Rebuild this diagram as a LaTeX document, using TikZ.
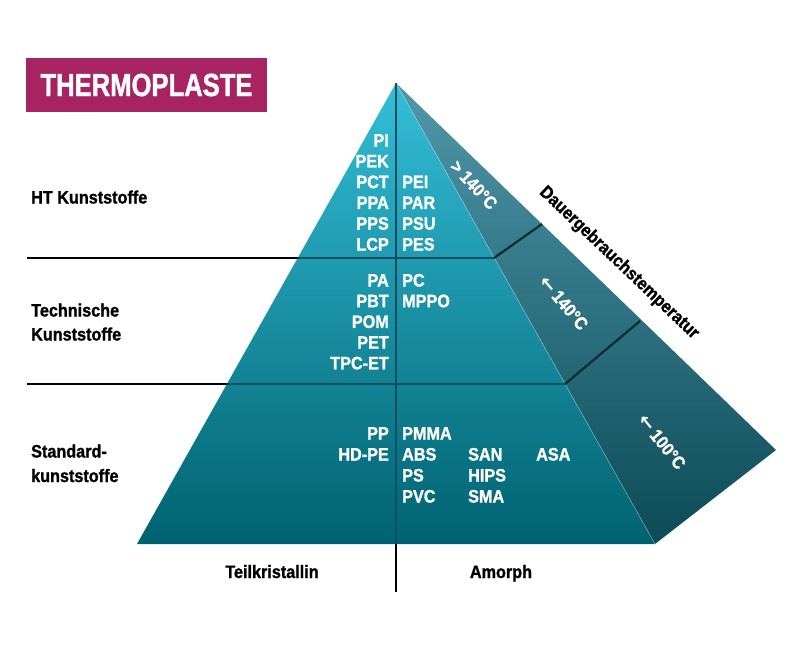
\documentclass[tikz,border=0pt]{standalone}
\usepackage{fontspec}
\setmainfont{Liberation Sans}[FakeStretch=0.9, BoldFeatures={FakeBold=1.2}]
\newfontfamily\titlefont{Liberation Sans}[FakeStretch=0.8, BoldFeatures={FakeBold=1.2}]
\newfontfamily\arrowfont{DejaVu Sans}
\definecolor{thermomag}{RGB}{168,35,98}
\definecolor{frontTop}{RGB}{52,190,216}
\definecolor{frontMid}{RGB}{22,140,163}
\definecolor{frontBot}{RGB}{0,98,112}
\definecolor{sideTop}{RGB}{80,152,170}
\definecolor{sideMid}{RGB}{28,96,110}
\definecolor{sideBot}{RGB}{12,74,86}
\definecolor{innerLine}{RGB}{8,80,98}
\definecolor{sideLine}{RGB}{6,45,55}
\tikzset{
  wtxt/.style={text=white, font=\fontsize{18}{20}\selectfont\bfseries, inner sep=0pt},
  btxt/.style={text=black, font=\fontsize{18}{20}\selectfont\bfseries, inner sep=0pt},
  outline/.style={draw=black, line width=2.4pt},
  inline/.style={draw=innerLine, line width=2pt},
  sline/.style={draw=sideLine, line width=2.2pt},
}
\newcommand{\larr}{{\arrowfont\bfseries\fontsize{19}{20}\selectfont ←}}
\begin{document}
\begin{tikzpicture}[x=1pt,y=-1pt]
\useasboundingbox (0,0) rectangle (801,651);
% geometry
\coordinate (apex) at (396,83);
\coordinate (bl) at (137,544);
\coordinate (br) at (655,544);
\coordinate (bk) at (776,450);
\coordinate (l1) at (27,258);
\coordinate (l1a) at (298,258);
\coordinate (l1b) at (494,258);
\coordinate (l1c) at (542,224);
\coordinate (l2) at (27,384);
\coordinate (l2a) at (227,384);
\coordinate (l2b) at (565,384);
\coordinate (l2c) at (640,321);
\coordinate (vb) at (396,544);
\coordinate (vend) at (396,592);
% faces
\shade[top color=sideTop, middle color=sideMid, bottom color=sideBot] (apex) -- (bk) -- (br) -- cycle;
\shade[top color=frontTop, middle color=frontMid, bottom color=frontBot] (apex) -- (br) -- (bl) -- cycle;
\draw[white, opacity=0.35, line width=0.6pt] (apex) -- (br);
% lines
\draw[outline] (l1) -- (l1a);
\draw[inline] (l1a) -- (l1b);
\draw[sline] (l1b) -- (l1c);
\draw[outline] (l2) -- (l2a);
\draw[inline] (l2a) -- (l2b);
\draw[sline] (l2b) -- (l2c);
\draw[inline] (apex) -- (vb);
\draw[outline] (vb) -- (vend);
% title
\node[fill=thermomag, minimum width=241pt, minimum height=54pt, inner sep=0pt,
      text=white, font=\titlefont\fontsize{32}{34}\selectfont\bfseries] (title) at (146.5,85) {THERMOPLASTE};
% left labels
\node[btxt, anchor=base west] (ht) at (31,203.5) {HT Kunststoffe};
\node[btxt, anchor=base west] (tk1) at (31,316.5) {Technische};
\node[btxt, anchor=base west] (tk2) at (31,340.5) {Kunststoffe};
\node[btxt, anchor=base west] (sk1) at (31,457.5) {Standard-};
\node[btxt, anchor=base west] (sk2) at (31,482) {kunststoffe};
% bottom labels
\node[btxt, anchor=base] (teil) at (272,578) {Teilkristallin};
\node[btxt, anchor=base] (amor) at (501,578) {Amorph};
% HT
\foreach \t [count=\i] in {PI,PEK,PCT,PPA,PPS,LCP}
  \node[wtxt, anchor=base east] (hta\i) at (389,{146.5+20.8*(\i-1)}) {\t};
\foreach \t [count=\i] in {PEI,PAR,PSU,PES}
  \node[wtxt, anchor=base west] (htb\i) at (402,{188.1+20.8*(\i-1)}) {\t};
% Technische
\foreach \t [count=\i] in {PA,PBT,POM,PET,TPC-ET}
  \node[wtxt, anchor=base east] (tea\i) at (389,{286.5+20.7*(\i-1)}) {\t};
\foreach \t [count=\i] in {PC,MPPO}
  \node[wtxt, anchor=base west] (teb\i) at (402,{286.5+20.7*(\i-1)}) {\t};
% Standard
\foreach \t [count=\i] in {PP,HD-PE}
  \node[wtxt, anchor=base east] (sta\i) at (389,{439.5+21*(\i-1)}) {\t};
\foreach \t [count=\i] in {PMMA,ABS,PS,PVC}
  \node[wtxt, anchor=base west] (stb\i) at (402,{439.5+21*(\i-1)}) {\t};
\foreach \t [count=\i] in {SAN,HIPS,SMA}
  \node[wtxt, anchor=base west] (stc\i) at (468,{460.5+21*(\i-1)}) {\t};
\node[wtxt, anchor=base west] (std1) at (536,460.5) {ASA};
% temperatures
\node[wtxt, rotate=-47] (t1) at (474,185) {> 140°C};
\node[wtxt, rotate=-50] (t2) at (564,303) {\larr\,140°C};
\node[wtxt, rotate=-51] (t3) at (662,442) {\larr\,100°C};
\node[btxt, rotate=-43.5] (dauer) at (619,263) {Dauergebrauchstemperatur};
\end{tikzpicture}
\end{document}
